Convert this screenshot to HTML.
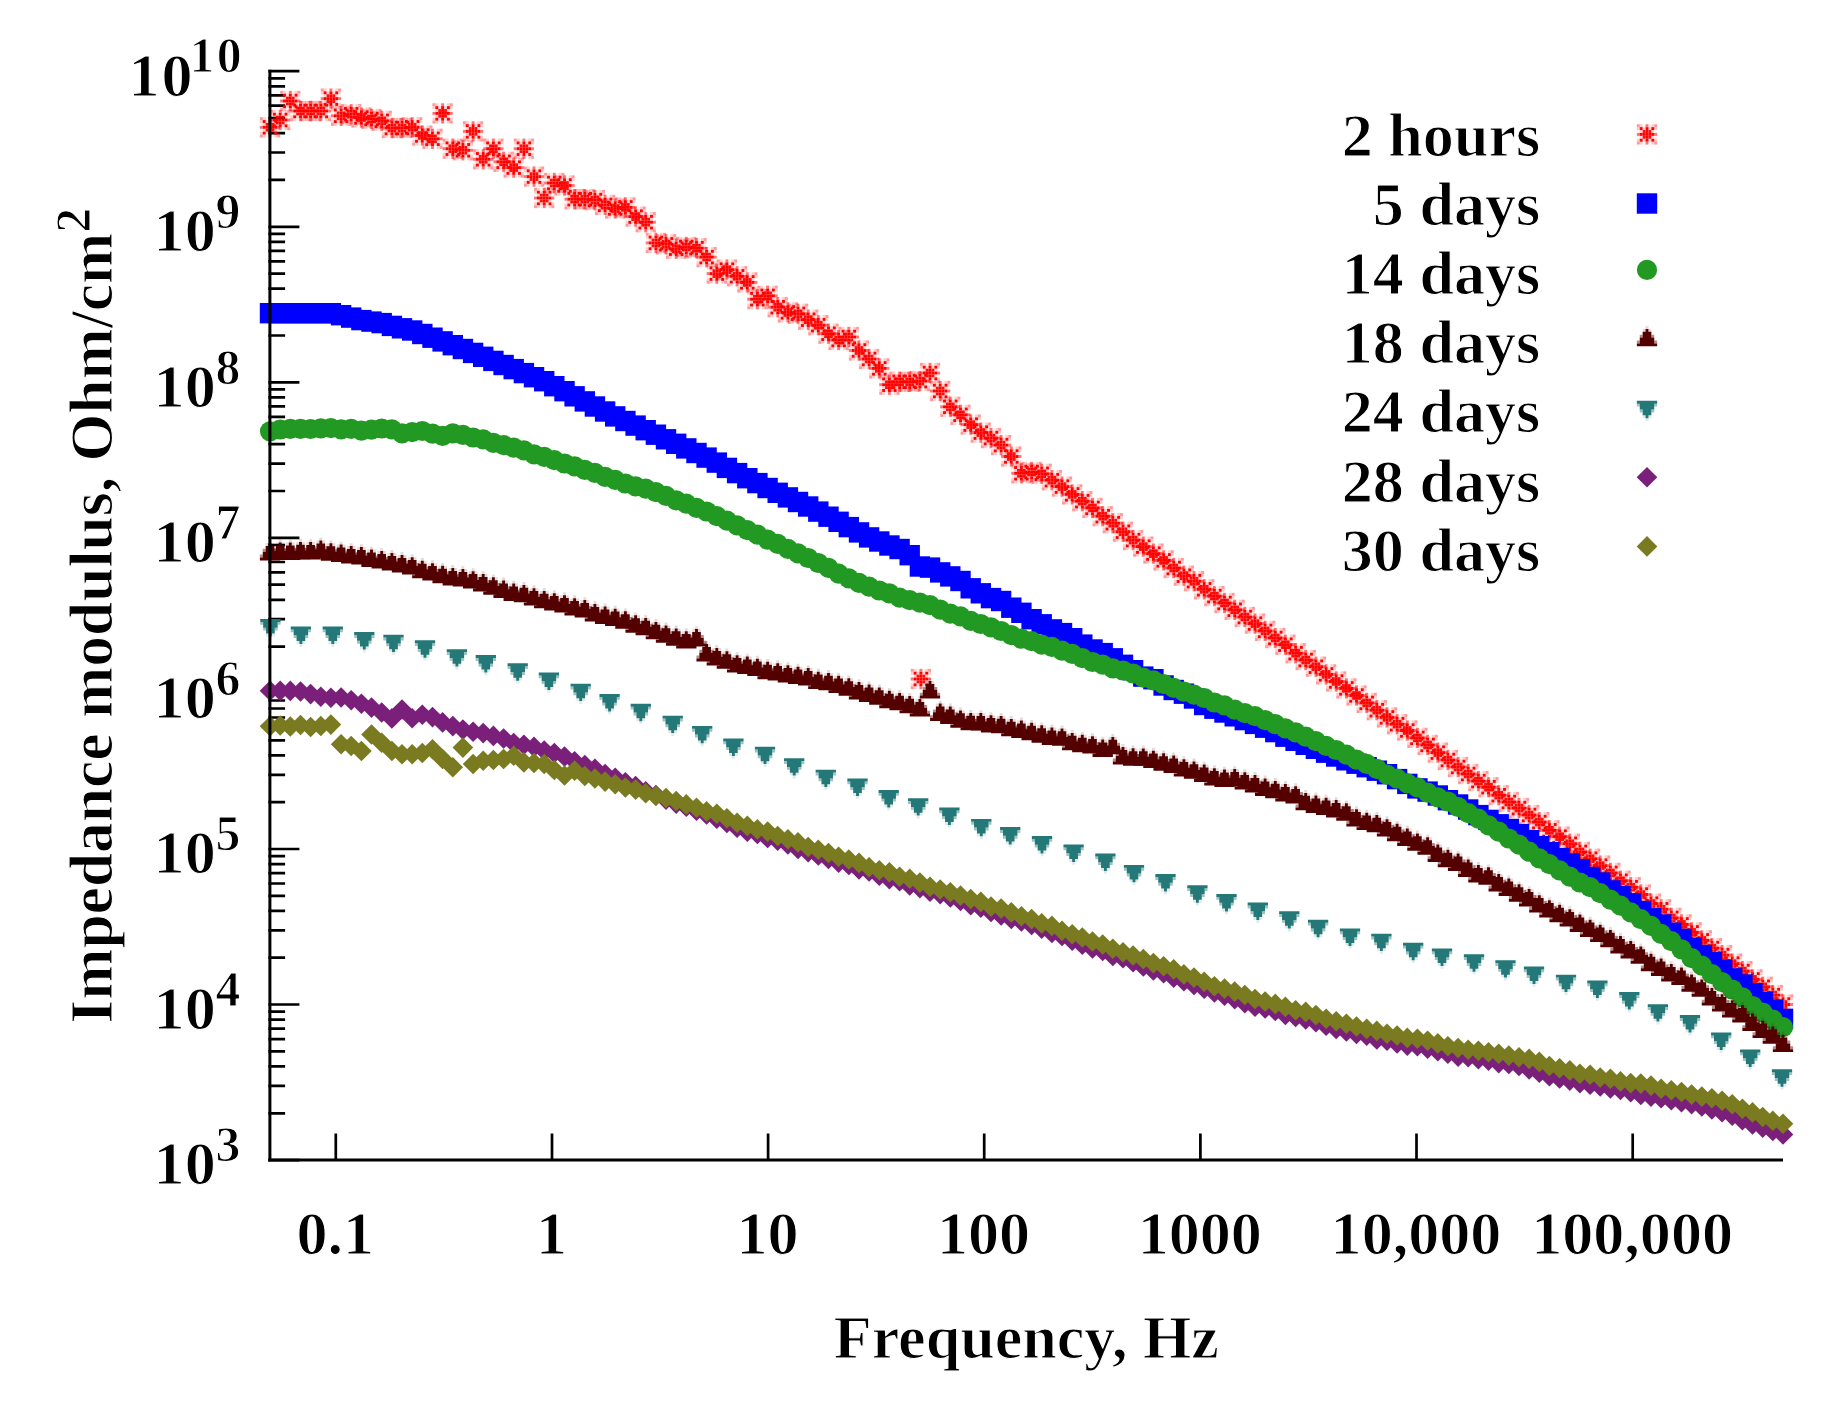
<!DOCTYPE html>
<html lang="en"><head><meta charset="utf-8"><title>Impedance modulus vs Frequency</title>
<style>
html,body{margin:0;padding:0;background:#fff;}
body{width:1827px;height:1412px;overflow:hidden;}
svg{display:block;}
text{font-family:"Liberation Serif", "DejaVu Serif", serif;font-weight:bold;fill:#000;stroke:#fff;stroke-width:1.1px;stroke-linejoin:round;}
</style></head><body>
<svg width="1827" height="1412" viewBox="0 0 1827 1412">
<rect width="1827" height="1412" fill="#fff"/>
<defs>
<g id="m-star" fill="#ff0000"><rect x="-10.15" y="-10.15" width="2.90" height="2.90" opacity="0.4"/><rect x="-10.15" y="-7.25" width="2.90" height="2.90" opacity="0.2"/><rect x="-10.15" y="-4.35" width="2.90" height="2.90" opacity="0.04"/><rect x="-10.15" y="-1.45" width="2.90" height="2.90" opacity="0.55"/><rect x="-10.15" y="1.45" width="2.90" height="2.90" opacity="0.04"/><rect x="-10.15" y="4.35" width="2.90" height="2.90" opacity="0.2"/><rect x="-10.15" y="7.25" width="2.90" height="2.90" opacity="0.4"/><rect x="-7.25" y="-10.15" width="2.90" height="2.90" opacity="0.2"/><rect x="-7.25" y="-7.25" width="2.90" height="2.90"/><rect x="-7.25" y="-4.35" width="2.90" height="2.90" opacity="0.18"/><rect x="-7.25" y="-1.45" width="2.90" height="2.90"/><rect x="-7.25" y="1.45" width="2.90" height="2.90" opacity="0.18"/><rect x="-7.25" y="4.35" width="2.90" height="2.90"/><rect x="-7.25" y="7.25" width="2.90" height="2.90" opacity="0.2"/><rect x="-4.35" y="-10.15" width="2.90" height="2.90" opacity="0.04"/><rect x="-4.35" y="-7.25" width="2.90" height="2.90" opacity="0.18"/><rect x="-4.35" y="-4.35" width="2.90" height="2.90" opacity="0.95"/><rect x="-4.35" y="-1.45" width="2.90" height="2.90"/><rect x="-4.35" y="1.45" width="2.90" height="2.90" opacity="0.95"/><rect x="-4.35" y="4.35" width="2.90" height="2.90" opacity="0.18"/><rect x="-4.35" y="7.25" width="2.90" height="2.90" opacity="0.04"/><rect x="-1.45" y="-10.15" width="2.90" height="2.90" opacity="0.55"/><rect x="-1.45" y="-7.25" width="2.90" height="2.90"/><rect x="-1.45" y="-4.35" width="2.90" height="2.90"/><rect x="-1.45" y="-1.45" width="2.90" height="2.90"/><rect x="-1.45" y="1.45" width="2.90" height="2.90"/><rect x="-1.45" y="4.35" width="2.90" height="2.90"/><rect x="-1.45" y="7.25" width="2.90" height="2.90" opacity="0.55"/><rect x="1.45" y="-10.15" width="2.90" height="2.90" opacity="0.04"/><rect x="1.45" y="-7.25" width="2.90" height="2.90" opacity="0.18"/><rect x="1.45" y="-4.35" width="2.90" height="2.90" opacity="0.95"/><rect x="1.45" y="-1.45" width="2.90" height="2.90"/><rect x="1.45" y="1.45" width="2.90" height="2.90" opacity="0.95"/><rect x="1.45" y="4.35" width="2.90" height="2.90" opacity="0.18"/><rect x="1.45" y="7.25" width="2.90" height="2.90" opacity="0.04"/><rect x="4.35" y="-10.15" width="2.90" height="2.90" opacity="0.2"/><rect x="4.35" y="-7.25" width="2.90" height="2.90"/><rect x="4.35" y="-4.35" width="2.90" height="2.90" opacity="0.18"/><rect x="4.35" y="-1.45" width="2.90" height="2.90"/><rect x="4.35" y="1.45" width="2.90" height="2.90" opacity="0.18"/><rect x="4.35" y="4.35" width="2.90" height="2.90"/><rect x="4.35" y="7.25" width="2.90" height="2.90" opacity="0.2"/><rect x="7.25" y="-10.15" width="2.90" height="2.90" opacity="0.4"/><rect x="7.25" y="-7.25" width="2.90" height="2.90" opacity="0.2"/><rect x="7.25" y="-4.35" width="2.90" height="2.90" opacity="0.04"/><rect x="7.25" y="-1.45" width="2.90" height="2.90" opacity="0.55"/><rect x="7.25" y="1.45" width="2.90" height="2.90" opacity="0.04"/><rect x="7.25" y="4.35" width="2.90" height="2.90" opacity="0.2"/><rect x="7.25" y="7.25" width="2.90" height="2.90" opacity="0.4"/></g>
<rect id="m-sq" x="-10.2" y="-10.2" width="20.4" height="20.4" fill="#0000ff"/>
<circle id="m-ci" r="10.1" fill="#229922"/>
<g id="m-up" fill="#550000"><path d="M-10.15 9.8V6.9H-7.25V1.1H-4.35V-4.7H-1.45V-7.6H1.45V-4.7H4.35V1.1H7.25V6.9H10.15V9.8Z"/><path opacity="0.45" d="M-10.15 6.9V4H-7.25V6.9ZM10.15 6.9V4H7.25V6.9ZM-7.25 1.1V-1.8H-4.35V1.1ZM7.25 1.1V-1.8H4.35V1.1Z"/><path opacity="0.15" d="M-4.35 -4.7V-7.6H-1.45V-4.7ZM4.35 -4.7V-7.6H1.45V-4.7ZM-1.45 -7.6V-10.5H1.45V-7.6Z"/></g>
<g id="m-dn" fill="#257878"><path d="M-10.15 -9.5V-6.6H-7.25V-0.8H-4.35V5H-1.45V7.9H1.45V5H4.35V-0.8H7.25V-6.6H10.15V-9.5Z"/><path opacity="0.45" d="M-10.15 -6.6V-3.7H-7.25V-6.6ZM10.15 -6.6V-3.7H7.25V-6.6ZM-7.25 -0.8V2.1H-4.35V-0.8ZM7.25 -0.8V2.1H4.35V-0.8Z"/><path opacity="0.15" d="M-4.35 5V7.9H-1.45V5ZM4.35 5V7.9H1.45V5ZM-1.45 7.9V10.8H1.45V7.9Z"/></g>
<path id="m-dp" d="M0 -10.3L10.3 0L0 10.3L-10.3 0Z" fill="#7a207a"/>
<path id="m-do" d="M0 -10.3L10.3 0L0 10.3L-10.3 0Z" fill="#7a7a20"/>
</defs>
<path d="M268.4 1160.1H299.4M268.4 1113.3H285.1M268.4 1085.9H285.1M268.4 1066.4H285.1M268.4 1051.4H285.1M268.4 1039.1H285.1M268.4 1028.6H285.1M268.4 1019.6H285.1M268.4 1011.7H285.1M268.4 1004.5H299.4M268.4 957.7H285.1M268.4 930.3H285.1M268.4 910.9H285.1M268.4 895.8H285.1M268.4 883.5H285.1M268.4 873.1H285.1M268.4 864.1H285.1M268.4 856.1H285.1M268.4 849.0H299.4M268.4 802.2H285.1M268.4 774.8H285.1M268.4 755.3H285.1M268.4 740.3H285.1M268.4 727.9H285.1M268.4 717.5H285.1M268.4 708.5H285.1M268.4 700.5H285.1M268.4 693.4H299.4M268.4 646.6H285.1M268.4 619.2H285.1M268.4 599.8H285.1M268.4 584.7H285.1M268.4 572.4H285.1M268.4 562.0H285.1M268.4 552.9H285.1M268.4 545.0H285.1M268.4 537.9H299.4M268.4 491.0H285.1M268.4 463.7H285.1M268.4 444.2H285.1M268.4 429.1H285.1M268.4 416.8H285.1M268.4 406.4H285.1M268.4 397.4H285.1M268.4 389.4H285.1M268.4 382.3H299.4M268.4 335.5H285.1M268.4 308.1H285.1M268.4 288.7H285.1M268.4 273.6H285.1M268.4 261.3H285.1M268.4 250.9H285.1M268.4 241.8H285.1M268.4 233.9H285.1M268.4 226.8H299.4M268.4 179.9H285.1M268.4 152.5H285.1M268.4 133.1H285.1M268.4 118.0H285.1M268.4 105.7H285.1M268.4 95.3H285.1M268.4 86.3H285.1M268.4 78.3H285.1M268.4 71.2H299.4M335.8 1160.1V1133.5M552.0 1160.1V1133.5M768.1 1160.1V1133.5M984.2 1160.1V1133.5M1200.4 1160.1V1133.5M1416.5 1160.1V1133.5M1632.7 1160.1V1133.5" stroke="#000" stroke-width="2.7" fill="none"/>
<g><use href="#m-star" x="270.0" y="127.3"/><use href="#m-star" x="280.2" y="120.0"/><use href="#m-star" x="290.3" y="101.0"/><use href="#m-star" x="300.5" y="111.0"/><use href="#m-star" x="310.6" y="111.0"/><use href="#m-star" x="320.8" y="111.0"/><use href="#m-star" x="330.9" y="98.6"/><use href="#m-star" x="341.1" y="115.8"/><use href="#m-star" x="351.2" y="114.2"/><use href="#m-star" x="361.4" y="117.5"/><use href="#m-star" x="371.5" y="119.0"/><use href="#m-star" x="381.7" y="120.8"/><use href="#m-star" x="391.9" y="128.0"/><use href="#m-star" x="402.0" y="128.0"/><use href="#m-star" x="412.2" y="127.3"/><use href="#m-star" x="422.3" y="135.5"/><use href="#m-star" x="432.5" y="138.8"/><use href="#m-star" x="442.6" y="113.4"/><use href="#m-star" x="452.8" y="148.7"/><use href="#m-star" x="462.9" y="150.3"/><use href="#m-star" x="473.1" y="131.4"/><use href="#m-star" x="483.2" y="159.3"/><use href="#m-star" x="493.4" y="148.7"/><use href="#m-star" x="503.6" y="161.8"/><use href="#m-star" x="513.7" y="167.6"/><use href="#m-star" x="523.9" y="148.7"/><use href="#m-star" x="534.0" y="176.6"/><use href="#m-star" x="544.2" y="198.0"/><use href="#m-star" x="554.3" y="183.0"/><use href="#m-star" x="564.5" y="185.5"/><use href="#m-star" x="574.6" y="199.2"/><use href="#m-star" x="584.8" y="199.2"/><use href="#m-star" x="594.9" y="200.1"/><use href="#m-star" x="605.1" y="204.9"/><use href="#m-star" x="615.2" y="208.5"/><use href="#m-star" x="625.4" y="207.4"/><use href="#m-star" x="635.6" y="216.6"/><use href="#m-star" x="645.7" y="222.2"/><use href="#m-star" x="655.9" y="242.9"/><use href="#m-star" x="666.0" y="244.3"/><use href="#m-star" x="676.2" y="248.7"/><use href="#m-star" x="686.3" y="247.0"/><use href="#m-star" x="696.5" y="248.2"/><use href="#m-star" x="706.6" y="257.1"/><use href="#m-star" x="716.8" y="273.6"/><use href="#m-star" x="726.9" y="269.6"/><use href="#m-star" x="737.1" y="276.3"/><use href="#m-star" x="747.3" y="282.4"/><use href="#m-star" x="757.4" y="299.2"/><use href="#m-star" x="767.6" y="295.8"/><use href="#m-star" x="777.7" y="307.2"/><use href="#m-star" x="787.9" y="312.4"/><use href="#m-star" x="798.0" y="313.8"/><use href="#m-star" x="808.2" y="319.7"/><use href="#m-star" x="818.3" y="325.2"/><use href="#m-star" x="828.5" y="333.7"/><use href="#m-star" x="838.6" y="340.0"/><use href="#m-star" x="848.8" y="337.0"/><use href="#m-star" x="859.0" y="350.5"/><use href="#m-star" x="869.1" y="359.0"/><use href="#m-star" x="879.3" y="368.4"/><use href="#m-star" x="889.4" y="384.7"/><use href="#m-star" x="899.6" y="381.8"/><use href="#m-star" x="909.7" y="381.8"/><use href="#m-star" x="919.9" y="381.1"/><use href="#m-star" x="930.0" y="373.0"/><use href="#m-star" x="940.2" y="391.0"/><use href="#m-star" x="950.3" y="406.8"/><use href="#m-star" x="960.5" y="414.8"/><use href="#m-star" x="970.7" y="424.6"/><use href="#m-star" x="980.8" y="432.6"/><use href="#m-star" x="991.0" y="438.1"/><use href="#m-star" x="1001.1" y="445.1"/><use href="#m-star" x="1011.3" y="456.5"/><use href="#m-star" x="1021.4" y="473.3"/><use href="#m-star" x="1031.6" y="472.0"/><use href="#m-star" x="1041.7" y="473.8"/><use href="#m-star" x="1051.9" y="480.2"/><use href="#m-star" x="1062.0" y="486.6"/><use href="#m-star" x="1072.2" y="494.4"/><use href="#m-star" x="1082.3" y="501.2"/><use href="#m-star" x="1092.5" y="507.9"/><use href="#m-star" x="1102.7" y="516.2"/><use href="#m-star" x="1112.8" y="523.2"/><use href="#m-star" x="1123.0" y="531.7"/><use href="#m-star" x="1133.1" y="540.1"/><use href="#m-star" x="1143.3" y="546.6"/><use href="#m-star" x="1153.4" y="553.6"/><use href="#m-star" x="1163.6" y="560.4"/><use href="#m-star" x="1173.7" y="568.0"/><use href="#m-star" x="1183.9" y="575.7"/><use href="#m-star" x="1194.0" y="581.2"/><use href="#m-star" x="1204.2" y="589.3"/><use href="#m-star" x="1214.4" y="596.1"/><use href="#m-star" x="1224.5" y="603.0"/><use href="#m-star" x="1234.7" y="609.8"/><use href="#m-star" x="1244.8" y="617.0"/><use href="#m-star" x="1255.0" y="623.6"/><use href="#m-star" x="1265.1" y="630.9"/><use href="#m-star" x="1275.3" y="638.0"/><use href="#m-star" x="1285.4" y="644.7"/><use href="#m-star" x="1295.6" y="653.2"/><use href="#m-star" x="1305.7" y="660.0"/><use href="#m-star" x="1315.9" y="666.7"/><use href="#m-star" x="1326.1" y="674.4"/><use href="#m-star" x="1336.2" y="681.5"/><use href="#m-star" x="1346.4" y="688.4"/><use href="#m-star" x="1356.5" y="695.5"/><use href="#m-star" x="1366.7" y="702.9"/><use href="#m-star" x="1376.8" y="710.2"/><use href="#m-star" x="1387.0" y="717.4"/><use href="#m-star" x="1397.1" y="724.2"/><use href="#m-star" x="1407.3" y="730.5"/><use href="#m-star" x="1417.4" y="737.9"/><use href="#m-star" x="1427.6" y="744.9"/><use href="#m-star" x="1437.8" y="752.6"/><use href="#m-star" x="1447.9" y="760.0"/><use href="#m-star" x="1458.1" y="767.0"/><use href="#m-star" x="1468.2" y="774.0"/><use href="#m-star" x="1478.4" y="781.1"/><use href="#m-star" x="1488.5" y="787.2"/><use href="#m-star" x="1498.7" y="795.2"/><use href="#m-star" x="1508.8" y="802.0"/><use href="#m-star" x="1519.0" y="808.1"/><use href="#m-star" x="1529.1" y="815.0"/><use href="#m-star" x="1539.3" y="822.1"/><use href="#m-star" x="1549.4" y="830.3"/><use href="#m-star" x="1559.6" y="836.6"/><use href="#m-star" x="1569.8" y="843.7"/><use href="#m-star" x="1579.9" y="851.9"/><use href="#m-star" x="1590.1" y="858.7"/><use href="#m-star" x="1600.2" y="865.6"/><use href="#m-star" x="1610.4" y="872.9"/><use href="#m-star" x="1620.5" y="880.7"/><use href="#m-star" x="1630.7" y="887.2"/><use href="#m-star" x="1640.8" y="894.5"/><use href="#m-star" x="1651.0" y="903.6"/><use href="#m-star" x="1661.1" y="909.3"/><use href="#m-star" x="1671.3" y="917.9"/><use href="#m-star" x="1681.5" y="924.4"/><use href="#m-star" x="1691.6" y="932.4"/><use href="#m-star" x="1701.8" y="940.4"/><use href="#m-star" x="1711.9" y="948.1"/><use href="#m-star" x="1722.1" y="955.1"/><use href="#m-star" x="1732.2" y="963.6"/><use href="#m-star" x="1742.4" y="971.1"/><use href="#m-star" x="1752.5" y="979.4"/><use href="#m-star" x="1762.7" y="986.8"/><use href="#m-star" x="1772.8" y="995.1"/><use href="#m-star" x="1783.0" y="1004.5"/><use href="#m-star" x="920.9" y="679.0"/></g>
<g><use href="#m-sq" x="270.0" y="313.2"/><use href="#m-sq" x="280.2" y="313.2"/><use href="#m-sq" x="290.3" y="313.2"/><use href="#m-sq" x="300.5" y="313.2"/><use href="#m-sq" x="310.6" y="313.2"/><use href="#m-sq" x="320.8" y="313.2"/><use href="#m-sq" x="330.9" y="313.2"/><use href="#m-sq" x="341.1" y="315.2"/><use href="#m-sq" x="351.2" y="317.6"/><use href="#m-sq" x="361.4" y="320.1"/><use href="#m-sq" x="371.5" y="321.6"/><use href="#m-sq" x="381.7" y="323.1"/><use href="#m-sq" x="391.9" y="325.9"/><use href="#m-sq" x="402.0" y="328.3"/><use href="#m-sq" x="412.2" y="330.5"/><use href="#m-sq" x="422.3" y="334.0"/><use href="#m-sq" x="432.5" y="337.7"/><use href="#m-sq" x="442.6" y="341.4"/><use href="#m-sq" x="452.8" y="345.2"/><use href="#m-sq" x="462.9" y="349.0"/><use href="#m-sq" x="473.1" y="352.9"/><use href="#m-sq" x="483.2" y="356.8"/><use href="#m-sq" x="493.4" y="360.9"/><use href="#m-sq" x="503.6" y="365.0"/><use href="#m-sq" x="513.7" y="369.1"/><use href="#m-sq" x="523.9" y="373.1"/><use href="#m-sq" x="534.0" y="377.2"/><use href="#m-sq" x="544.2" y="381.2"/><use href="#m-sq" x="554.3" y="386.2"/><use href="#m-sq" x="564.5" y="391.2"/><use href="#m-sq" x="574.6" y="396.3"/><use href="#m-sq" x="584.8" y="401.4"/><use href="#m-sq" x="594.9" y="406.5"/><use href="#m-sq" x="605.1" y="411.5"/><use href="#m-sq" x="615.2" y="416.4"/><use href="#m-sq" x="625.4" y="421.0"/><use href="#m-sq" x="635.6" y="425.6"/><use href="#m-sq" x="645.7" y="430.2"/><use href="#m-sq" x="655.9" y="434.7"/><use href="#m-sq" x="666.0" y="439.3"/><use href="#m-sq" x="676.2" y="443.8"/><use href="#m-sq" x="686.3" y="448.4"/><use href="#m-sq" x="696.5" y="453.0"/><use href="#m-sq" x="706.6" y="457.6"/><use href="#m-sq" x="716.8" y="462.6"/><use href="#m-sq" x="726.9" y="467.9"/><use href="#m-sq" x="737.1" y="473.1"/><use href="#m-sq" x="747.3" y="478.2"/><use href="#m-sq" x="757.4" y="483.1"/><use href="#m-sq" x="767.6" y="488.0"/><use href="#m-sq" x="777.7" y="492.8"/><use href="#m-sq" x="787.9" y="497.4"/><use href="#m-sq" x="798.0" y="502.0"/><use href="#m-sq" x="808.2" y="506.5"/><use href="#m-sq" x="818.3" y="511.6"/><use href="#m-sq" x="828.5" y="516.7"/><use href="#m-sq" x="838.6" y="521.8"/><use href="#m-sq" x="848.8" y="527.1"/><use href="#m-sq" x="859.0" y="532.4"/><use href="#m-sq" x="869.1" y="537.4"/><use href="#m-sq" x="879.3" y="541.5"/><use href="#m-sq" x="889.4" y="545.5"/><use href="#m-sq" x="899.6" y="549.0"/><use href="#m-sq" x="909.7" y="555.2"/><use href="#m-sq" x="919.9" y="566.5"/><use href="#m-sq" x="930.0" y="567.6"/><use href="#m-sq" x="940.2" y="572.4"/><use href="#m-sq" x="950.3" y="576.4"/><use href="#m-sq" x="960.5" y="581.0"/><use href="#m-sq" x="970.7" y="588.3"/><use href="#m-sq" x="980.8" y="593.3"/><use href="#m-sq" x="991.0" y="598.1"/><use href="#m-sq" x="1001.1" y="601.0"/><use href="#m-sq" x="1011.3" y="607.7"/><use href="#m-sq" x="1021.4" y="612.8"/><use href="#m-sq" x="1031.6" y="619.2"/><use href="#m-sq" x="1041.7" y="624.3"/><use href="#m-sq" x="1051.9" y="629.4"/><use href="#m-sq" x="1062.0" y="633.1"/><use href="#m-sq" x="1072.2" y="638.2"/><use href="#m-sq" x="1082.3" y="644.6"/><use href="#m-sq" x="1092.5" y="649.5"/><use href="#m-sq" x="1102.7" y="653.1"/><use href="#m-sq" x="1112.8" y="658.3"/><use href="#m-sq" x="1123.0" y="664.8"/><use href="#m-sq" x="1133.1" y="670.2"/><use href="#m-sq" x="1143.3" y="676.6"/><use href="#m-sq" x="1153.4" y="679.2"/><use href="#m-sq" x="1163.6" y="685.5"/><use href="#m-sq" x="1173.7" y="690.0"/><use href="#m-sq" x="1183.9" y="693.7"/><use href="#m-sq" x="1194.0" y="698.5"/><use href="#m-sq" x="1204.2" y="705.0"/><use href="#m-sq" x="1214.4" y="708.7"/><use href="#m-sq" x="1224.5" y="712.5"/><use href="#m-sq" x="1234.7" y="716.3"/><use href="#m-sq" x="1244.8" y="720.1"/><use href="#m-sq" x="1255.0" y="723.9"/><use href="#m-sq" x="1265.1" y="727.7"/><use href="#m-sq" x="1275.3" y="732.1"/><use href="#m-sq" x="1285.4" y="736.7"/><use href="#m-sq" x="1295.6" y="740.8"/><use href="#m-sq" x="1305.7" y="744.8"/><use href="#m-sq" x="1315.9" y="748.8"/><use href="#m-sq" x="1326.1" y="752.7"/><use href="#m-sq" x="1336.2" y="756.5"/><use href="#m-sq" x="1346.4" y="760.3"/><use href="#m-sq" x="1356.5" y="763.7"/><use href="#m-sq" x="1366.7" y="767.2"/><use href="#m-sq" x="1376.8" y="770.7"/><use href="#m-sq" x="1387.0" y="774.2"/><use href="#m-sq" x="1397.1" y="779.1"/><use href="#m-sq" x="1407.3" y="783.9"/><use href="#m-sq" x="1417.4" y="788.4"/><use href="#m-sq" x="1427.6" y="791.6"/><use href="#m-sq" x="1437.8" y="795.5"/><use href="#m-sq" x="1447.9" y="800.2"/><use href="#m-sq" x="1458.1" y="804.5"/><use href="#m-sq" x="1468.2" y="809.5"/><use href="#m-sq" x="1478.4" y="815.1"/><use href="#m-sq" x="1488.5" y="819.9"/><use href="#m-sq" x="1498.7" y="824.3"/><use href="#m-sq" x="1508.8" y="829.0"/><use href="#m-sq" x="1519.0" y="834.1"/><use href="#m-sq" x="1529.1" y="840.2"/><use href="#m-sq" x="1539.3" y="846.2"/><use href="#m-sq" x="1549.4" y="852.2"/><use href="#m-sq" x="1559.6" y="858.0"/><use href="#m-sq" x="1569.8" y="863.4"/><use href="#m-sq" x="1579.9" y="869.2"/><use href="#m-sq" x="1590.1" y="877.0"/><use href="#m-sq" x="1600.2" y="882.5"/><use href="#m-sq" x="1610.4" y="890.4"/><use href="#m-sq" x="1620.5" y="896.2"/><use href="#m-sq" x="1630.7" y="903.4"/><use href="#m-sq" x="1640.8" y="911.0"/><use href="#m-sq" x="1651.0" y="918.3"/><use href="#m-sq" x="1661.1" y="924.5"/><use href="#m-sq" x="1671.3" y="932.7"/><use href="#m-sq" x="1681.5" y="938.9"/><use href="#m-sq" x="1691.6" y="947.7"/><use href="#m-sq" x="1701.8" y="955.0"/><use href="#m-sq" x="1711.9" y="962.2"/><use href="#m-sq" x="1722.1" y="969.6"/><use href="#m-sq" x="1732.2" y="978.4"/><use href="#m-sq" x="1742.4" y="984.5"/><use href="#m-sq" x="1752.5" y="993.3"/><use href="#m-sq" x="1762.7" y="1001.8"/><use href="#m-sq" x="1772.8" y="1009.6"/><use href="#m-sq" x="1783.0" y="1018.9"/></g>
<g><use href="#m-ci" x="270.0" y="431.3"/><use href="#m-ci" x="280.2" y="429.5"/><use href="#m-ci" x="290.3" y="428.8"/><use href="#m-ci" x="300.5" y="428.9"/><use href="#m-ci" x="310.6" y="429.0"/><use href="#m-ci" x="320.8" y="428.3"/><use href="#m-ci" x="330.9" y="428.2"/><use href="#m-ci" x="341.1" y="429.3"/><use href="#m-ci" x="351.2" y="428.9"/><use href="#m-ci" x="361.4" y="430.6"/><use href="#m-ci" x="371.5" y="429.6"/><use href="#m-ci" x="381.7" y="428.5"/><use href="#m-ci" x="391.9" y="429.3"/><use href="#m-ci" x="402.0" y="433.3"/><use href="#m-ci" x="412.2" y="432.1"/><use href="#m-ci" x="422.3" y="431.0"/><use href="#m-ci" x="432.5" y="433.6"/><use href="#m-ci" x="442.6" y="435.9"/><use href="#m-ci" x="452.8" y="433.3"/><use href="#m-ci" x="462.9" y="434.8"/><use href="#m-ci" x="473.1" y="437.5"/><use href="#m-ci" x="483.2" y="439.3"/><use href="#m-ci" x="493.4" y="442.8"/><use href="#m-ci" x="503.6" y="445.2"/><use href="#m-ci" x="513.7" y="447.6"/><use href="#m-ci" x="523.9" y="450.3"/><use href="#m-ci" x="534.0" y="454.3"/><use href="#m-ci" x="544.2" y="456.8"/><use href="#m-ci" x="554.3" y="460.2"/><use href="#m-ci" x="564.5" y="463.5"/><use href="#m-ci" x="574.6" y="466.3"/><use href="#m-ci" x="584.8" y="469.9"/><use href="#m-ci" x="594.9" y="472.9"/><use href="#m-ci" x="605.1" y="476.9"/><use href="#m-ci" x="615.2" y="479.8"/><use href="#m-ci" x="625.4" y="483.5"/><use href="#m-ci" x="635.6" y="486.4"/><use href="#m-ci" x="645.7" y="488.6"/><use href="#m-ci" x="655.9" y="492.2"/><use href="#m-ci" x="666.0" y="495.8"/><use href="#m-ci" x="676.2" y="500.3"/><use href="#m-ci" x="686.3" y="503.6"/><use href="#m-ci" x="696.5" y="507.9"/><use href="#m-ci" x="706.6" y="511.5"/><use href="#m-ci" x="716.8" y="516.2"/><use href="#m-ci" x="726.9" y="520.7"/><use href="#m-ci" x="737.1" y="525.3"/><use href="#m-ci" x="747.3" y="530.2"/><use href="#m-ci" x="757.4" y="534.7"/><use href="#m-ci" x="767.6" y="539.6"/><use href="#m-ci" x="777.7" y="543.9"/><use href="#m-ci" x="787.9" y="548.8"/><use href="#m-ci" x="798.0" y="553.3"/><use href="#m-ci" x="808.2" y="558.0"/><use href="#m-ci" x="818.3" y="563.0"/><use href="#m-ci" x="828.5" y="567.8"/><use href="#m-ci" x="838.6" y="573.6"/><use href="#m-ci" x="848.8" y="578.3"/><use href="#m-ci" x="859.0" y="582.8"/><use href="#m-ci" x="869.1" y="586.7"/><use href="#m-ci" x="879.3" y="590.5"/><use href="#m-ci" x="889.4" y="593.4"/><use href="#m-ci" x="899.6" y="597.7"/><use href="#m-ci" x="909.7" y="600.2"/><use href="#m-ci" x="919.9" y="602.6"/><use href="#m-ci" x="930.0" y="605.1"/><use href="#m-ci" x="940.2" y="609.7"/><use href="#m-ci" x="950.3" y="613.7"/><use href="#m-ci" x="960.5" y="616.4"/><use href="#m-ci" x="970.7" y="620.9"/><use href="#m-ci" x="980.8" y="624.0"/><use href="#m-ci" x="991.0" y="627.3"/><use href="#m-ci" x="1001.1" y="631.0"/><use href="#m-ci" x="1011.3" y="635.1"/><use href="#m-ci" x="1021.4" y="638.7"/><use href="#m-ci" x="1031.6" y="641.1"/><use href="#m-ci" x="1041.7" y="644.7"/><use href="#m-ci" x="1051.9" y="646.9"/><use href="#m-ci" x="1062.0" y="650.6"/><use href="#m-ci" x="1072.2" y="653.8"/><use href="#m-ci" x="1082.3" y="658.2"/><use href="#m-ci" x="1092.5" y="662.0"/><use href="#m-ci" x="1102.7" y="664.7"/><use href="#m-ci" x="1112.8" y="668.3"/><use href="#m-ci" x="1123.0" y="670.5"/><use href="#m-ci" x="1133.1" y="673.5"/><use href="#m-ci" x="1143.3" y="677.6"/><use href="#m-ci" x="1153.4" y="680.4"/><use href="#m-ci" x="1163.6" y="684.0"/><use href="#m-ci" x="1173.7" y="687.8"/><use href="#m-ci" x="1183.9" y="691.6"/><use href="#m-ci" x="1194.0" y="694.6"/><use href="#m-ci" x="1204.2" y="698.0"/><use href="#m-ci" x="1214.4" y="702.5"/><use href="#m-ci" x="1224.5" y="705.4"/><use href="#m-ci" x="1234.7" y="709.7"/><use href="#m-ci" x="1244.8" y="713.2"/><use href="#m-ci" x="1255.0" y="716.2"/><use href="#m-ci" x="1265.1" y="720.1"/><use href="#m-ci" x="1275.3" y="724.2"/><use href="#m-ci" x="1285.4" y="728.3"/><use href="#m-ci" x="1295.6" y="732.4"/><use href="#m-ci" x="1305.7" y="736.7"/><use href="#m-ci" x="1315.9" y="741.1"/><use href="#m-ci" x="1326.1" y="745.8"/><use href="#m-ci" x="1336.2" y="750.0"/><use href="#m-ci" x="1346.4" y="754.6"/><use href="#m-ci" x="1356.5" y="759.7"/><use href="#m-ci" x="1366.7" y="763.9"/><use href="#m-ci" x="1376.8" y="768.9"/><use href="#m-ci" x="1387.0" y="774.6"/><use href="#m-ci" x="1397.1" y="778.7"/><use href="#m-ci" x="1407.3" y="783.4"/><use href="#m-ci" x="1417.4" y="787.4"/><use href="#m-ci" x="1427.6" y="792.6"/><use href="#m-ci" x="1437.8" y="797.4"/><use href="#m-ci" x="1447.9" y="801.5"/><use href="#m-ci" x="1458.1" y="807.0"/><use href="#m-ci" x="1468.2" y="813.2"/><use href="#m-ci" x="1478.4" y="818.6"/><use href="#m-ci" x="1488.5" y="825.3"/><use href="#m-ci" x="1498.7" y="831.7"/><use href="#m-ci" x="1508.8" y="838.5"/><use href="#m-ci" x="1519.0" y="844.7"/><use href="#m-ci" x="1529.1" y="851.7"/><use href="#m-ci" x="1539.3" y="858.3"/><use href="#m-ci" x="1549.4" y="864.1"/><use href="#m-ci" x="1559.6" y="870.3"/><use href="#m-ci" x="1569.8" y="876.6"/><use href="#m-ci" x="1579.9" y="882.5"/><use href="#m-ci" x="1590.1" y="887.2"/><use href="#m-ci" x="1600.2" y="893.1"/><use href="#m-ci" x="1610.4" y="899.6"/><use href="#m-ci" x="1620.5" y="905.7"/><use href="#m-ci" x="1630.7" y="912.3"/><use href="#m-ci" x="1640.8" y="919.1"/><use href="#m-ci" x="1651.0" y="925.9"/><use href="#m-ci" x="1661.1" y="933.9"/><use href="#m-ci" x="1671.3" y="941.1"/><use href="#m-ci" x="1681.5" y="949.3"/><use href="#m-ci" x="1691.6" y="958.2"/><use href="#m-ci" x="1701.8" y="965.7"/><use href="#m-ci" x="1711.9" y="974.2"/><use href="#m-ci" x="1722.1" y="982.1"/><use href="#m-ci" x="1732.2" y="989.5"/><use href="#m-ci" x="1742.4" y="997.3"/><use href="#m-ci" x="1752.5" y="1006.0"/><use href="#m-ci" x="1762.7" y="1012.6"/><use href="#m-ci" x="1772.8" y="1019.7"/><use href="#m-ci" x="1783.0" y="1027.2"/></g>
<g><use href="#m-up" x="270.0" y="550.6"/><use href="#m-up" x="280.2" y="550.0"/><use href="#m-up" x="290.3" y="550.2"/><use href="#m-up" x="300.5" y="549.5"/><use href="#m-up" x="310.6" y="549.7"/><use href="#m-up" x="320.8" y="548.1"/><use href="#m-up" x="330.9" y="550.9"/><use href="#m-up" x="341.1" y="552.2"/><use href="#m-up" x="351.2" y="553.7"/><use href="#m-up" x="361.4" y="554.7"/><use href="#m-up" x="371.5" y="557.2"/><use href="#m-up" x="381.7" y="558.7"/><use href="#m-up" x="391.9" y="560.6"/><use href="#m-up" x="402.0" y="562.6"/><use href="#m-up" x="412.2" y="564.8"/><use href="#m-up" x="422.3" y="568.4"/><use href="#m-up" x="432.5" y="570.8"/><use href="#m-up" x="442.6" y="573.4"/><use href="#m-up" x="452.8" y="575.6"/><use href="#m-up" x="462.9" y="576.6"/><use href="#m-up" x="473.1" y="578.8"/><use href="#m-up" x="483.2" y="581.7"/><use href="#m-up" x="493.4" y="584.9"/><use href="#m-up" x="503.6" y="588.1"/><use href="#m-up" x="513.7" y="591.2"/><use href="#m-up" x="523.9" y="592.5"/><use href="#m-up" x="534.0" y="595.8"/><use href="#m-up" x="544.2" y="598.5"/><use href="#m-up" x="554.3" y="600.8"/><use href="#m-up" x="564.5" y="602.8"/><use href="#m-up" x="574.6" y="605.8"/><use href="#m-up" x="584.8" y="607.7"/><use href="#m-up" x="594.9" y="611.6"/><use href="#m-up" x="605.1" y="614.1"/><use href="#m-up" x="615.2" y="616.3"/><use href="#m-up" x="625.4" y="618.9"/><use href="#m-up" x="635.6" y="622.9"/><use href="#m-up" x="645.7" y="625.5"/><use href="#m-up" x="655.9" y="629.5"/><use href="#m-up" x="666.0" y="633.0"/><use href="#m-up" x="676.2" y="636.0"/><use href="#m-up" x="686.3" y="638.8"/><use href="#m-up" x="696.5" y="636.7"/><use href="#m-up" x="706.6" y="651.6"/><use href="#m-up" x="716.8" y="655.6"/><use href="#m-up" x="726.9" y="658.9"/><use href="#m-up" x="737.1" y="662.8"/><use href="#m-up" x="747.3" y="664.2"/><use href="#m-up" x="757.4" y="666.3"/><use href="#m-up" x="767.6" y="669.4"/><use href="#m-up" x="777.7" y="670.8"/><use href="#m-up" x="787.9" y="672.8"/><use href="#m-up" x="798.0" y="674.3"/><use href="#m-up" x="808.2" y="675.7"/><use href="#m-up" x="818.3" y="679.3"/><use href="#m-up" x="828.5" y="680.5"/><use href="#m-up" x="838.6" y="683.3"/><use href="#m-up" x="848.8" y="685.9"/><use href="#m-up" x="859.0" y="689.7"/><use href="#m-up" x="869.1" y="692.1"/><use href="#m-up" x="879.3" y="695.0"/><use href="#m-up" x="889.4" y="698.4"/><use href="#m-up" x="899.6" y="700.5"/><use href="#m-up" x="909.7" y="703.5"/><use href="#m-up" x="919.9" y="706.7"/><use href="#m-up" x="930.0" y="688.7"/><use href="#m-up" x="940.2" y="711.2"/><use href="#m-up" x="950.3" y="714.1"/><use href="#m-up" x="960.5" y="718.0"/><use href="#m-up" x="970.7" y="720.5"/><use href="#m-up" x="980.8" y="720.7"/><use href="#m-up" x="991.0" y="722.8"/><use href="#m-up" x="1001.1" y="723.5"/><use href="#m-up" x="1011.3" y="726.5"/><use href="#m-up" x="1021.4" y="728.1"/><use href="#m-up" x="1031.6" y="730.4"/><use href="#m-up" x="1041.7" y="732.9"/><use href="#m-up" x="1051.9" y="735.1"/><use href="#m-up" x="1062.0" y="736.0"/><use href="#m-up" x="1072.2" y="740.5"/><use href="#m-up" x="1082.3" y="742.4"/><use href="#m-up" x="1092.5" y="743.8"/><use href="#m-up" x="1102.7" y="747.2"/><use href="#m-up" x="1112.8" y="744.5"/><use href="#m-up" x="1123.0" y="754.6"/><use href="#m-up" x="1133.1" y="755.9"/><use href="#m-up" x="1143.3" y="756.0"/><use href="#m-up" x="1153.4" y="758.3"/><use href="#m-up" x="1163.6" y="760.9"/><use href="#m-up" x="1173.7" y="763.1"/><use href="#m-up" x="1183.9" y="766.8"/><use href="#m-up" x="1194.0" y="769.0"/><use href="#m-up" x="1204.2" y="772.2"/><use href="#m-up" x="1214.4" y="775.8"/><use href="#m-up" x="1224.5" y="777.2"/><use href="#m-up" x="1234.7" y="776.7"/><use href="#m-up" x="1244.8" y="779.8"/><use href="#m-up" x="1255.0" y="782.6"/><use href="#m-up" x="1265.1" y="786.1"/><use href="#m-up" x="1275.3" y="788.5"/><use href="#m-up" x="1285.4" y="791.6"/><use href="#m-up" x="1295.6" y="793.8"/><use href="#m-up" x="1305.7" y="800.5"/><use href="#m-up" x="1315.9" y="803.1"/><use href="#m-up" x="1326.1" y="805.3"/><use href="#m-up" x="1336.2" y="807.7"/><use href="#m-up" x="1346.4" y="810.9"/><use href="#m-up" x="1356.5" y="816.8"/><use href="#m-up" x="1366.7" y="820.3"/><use href="#m-up" x="1376.8" y="822.5"/><use href="#m-up" x="1387.0" y="826.8"/><use href="#m-up" x="1397.1" y="831.4"/><use href="#m-up" x="1407.3" y="836.1"/><use href="#m-up" x="1417.4" y="841.0"/><use href="#m-up" x="1427.6" y="844.9"/><use href="#m-up" x="1437.8" y="852.2"/><use href="#m-up" x="1447.9" y="857.4"/><use href="#m-up" x="1458.1" y="861.2"/><use href="#m-up" x="1468.2" y="867.1"/><use href="#m-up" x="1478.4" y="872.6"/><use href="#m-up" x="1488.5" y="874.9"/><use href="#m-up" x="1498.7" y="881.6"/><use href="#m-up" x="1508.8" y="886.1"/><use href="#m-up" x="1519.0" y="891.9"/><use href="#m-up" x="1529.1" y="896.7"/><use href="#m-up" x="1539.3" y="902.8"/><use href="#m-up" x="1549.4" y="907.8"/><use href="#m-up" x="1559.6" y="912.4"/><use href="#m-up" x="1569.8" y="916.8"/><use href="#m-up" x="1579.9" y="922.2"/><use href="#m-up" x="1590.1" y="927.3"/><use href="#m-up" x="1600.2" y="932.3"/><use href="#m-up" x="1610.4" y="937.5"/><use href="#m-up" x="1620.5" y="943.6"/><use href="#m-up" x="1630.7" y="948.7"/><use href="#m-up" x="1640.8" y="954.0"/><use href="#m-up" x="1651.0" y="961.4"/><use href="#m-up" x="1661.1" y="966.2"/><use href="#m-up" x="1671.3" y="971.7"/><use href="#m-up" x="1681.5" y="975.2"/><use href="#m-up" x="1691.6" y="982.0"/><use href="#m-up" x="1701.8" y="987.0"/><use href="#m-up" x="1711.9" y="995.7"/><use href="#m-up" x="1722.1" y="1001.8"/><use href="#m-up" x="1732.2" y="1007.8"/><use href="#m-up" x="1742.4" y="1012.7"/><use href="#m-up" x="1752.5" y="1021.2"/><use href="#m-up" x="1762.7" y="1028.3"/><use href="#m-up" x="1772.8" y="1034.0"/><use href="#m-up" x="1783.0" y="1042.3"/></g>
<g><use href="#m-dn" x="270.4" y="628.5"/><use href="#m-dn" x="300.9" y="636.0"/><use href="#m-dn" x="332.8" y="636.0"/><use href="#m-dn" x="364.3" y="641.6"/><use href="#m-dn" x="393.5" y="644.2"/><use href="#m-dn" x="425.0" y="649.8"/><use href="#m-dn" x="456.9" y="658.7"/><use href="#m-dn" x="485.8" y="664.6"/><use href="#m-dn" x="517.7" y="672.8"/><use href="#m-dn" x="548.9" y="682.0"/><use href="#m-dn" x="580.7" y="693.2"/><use href="#m-dn" x="609.6" y="703.5"/><use href="#m-dn" x="640.8" y="713.3"/><use href="#m-dn" x="672.7" y="725.2"/><use href="#m-dn" x="702.2" y="735.4"/><use href="#m-dn" x="733.4" y="748.0"/><use href="#m-dn" x="765.0" y="756.2"/><use href="#m-dn" x="794.2" y="767.7"/><use href="#m-dn" x="825.8" y="779.2"/><use href="#m-dn" x="857.5" y="788.0"/><use href="#m-dn" x="888.7" y="799.5"/><use href="#m-dn" x="918.2" y="807.7"/><use href="#m-dn" x="949.4" y="817.0"/><use href="#m-dn" x="981.3" y="828.4"/><use href="#m-dn" x="1010.2" y="836.6"/><use href="#m-dn" x="1042.0" y="845.5"/><use href="#m-dn" x="1073.6" y="854.0"/><use href="#m-dn" x="1105.4" y="863.0"/><use href="#m-dn" x="1134.0" y="874.4"/><use href="#m-dn" x="1165.5" y="883.6"/><use href="#m-dn" x="1197.4" y="894.8"/><use href="#m-dn" x="1226.5" y="903.5"/><use href="#m-dn" x="1257.8" y="912.1"/><use href="#m-dn" x="1289.3" y="920.7"/><use href="#m-dn" x="1318.1" y="929.3"/><use href="#m-dn" x="1350.0" y="938.0"/><use href="#m-dn" x="1381.4" y="943.2"/><use href="#m-dn" x="1413.2" y="952.3"/><use href="#m-dn" x="1442.0" y="958.0"/><use href="#m-dn" x="1474.0" y="963.8"/><use href="#m-dn" x="1505.5" y="969.7"/><use href="#m-dn" x="1534.0" y="976.0"/><use href="#m-dn" x="1566.0" y="984.2"/><use href="#m-dn" x="1597.4" y="990.0"/><use href="#m-dn" x="1629.3" y="1001.6"/><use href="#m-dn" x="1657.9" y="1013.7"/><use href="#m-dn" x="1690.0" y="1024.6"/><use href="#m-dn" x="1721.2" y="1042.0"/><use href="#m-dn" x="1750.2" y="1059.0"/><use href="#m-dn" x="1782.0" y="1078.8"/></g>
<g><use href="#m-dp" x="270.0" y="690.7"/><use href="#m-dp" x="280.2" y="690.8"/><use href="#m-dp" x="290.3" y="690.9"/><use href="#m-dp" x="300.5" y="691.5"/><use href="#m-dp" x="310.6" y="694.1"/><use href="#m-dp" x="320.8" y="696.8"/><use href="#m-dp" x="330.9" y="697.8"/><use href="#m-dp" x="341.1" y="697.5"/><use href="#m-dp" x="351.2" y="700.2"/><use href="#m-dp" x="361.4" y="703.7"/><use href="#m-dp" x="371.5" y="707.6"/><use href="#m-dp" x="381.7" y="712.5"/><use href="#m-dp" x="391.9" y="718.4"/><use href="#m-dp" x="402.0" y="709.5"/><use href="#m-dp" x="412.2" y="718.2"/><use href="#m-dp" x="422.3" y="714.7"/><use href="#m-dp" x="432.5" y="717.1"/><use href="#m-dp" x="442.6" y="722.4"/><use href="#m-dp" x="452.8" y="726.1"/><use href="#m-dp" x="462.9" y="729.6"/><use href="#m-dp" x="473.1" y="731.7"/><use href="#m-dp" x="483.2" y="733.1"/><use href="#m-dp" x="493.4" y="735.9"/><use href="#m-dp" x="503.6" y="738.5"/><use href="#m-dp" x="513.7" y="743.1"/><use href="#m-dp" x="523.9" y="744.8"/><use href="#m-dp" x="534.0" y="746.9"/><use href="#m-dp" x="544.2" y="750.5"/><use href="#m-dp" x="554.3" y="753.0"/><use href="#m-dp" x="564.5" y="756.5"/><use href="#m-dp" x="574.6" y="761.2"/><use href="#m-dp" x="584.8" y="765.1"/><use href="#m-dp" x="594.9" y="768.7"/><use href="#m-dp" x="605.1" y="774.0"/><use href="#m-dp" x="615.2" y="777.8"/><use href="#m-dp" x="625.4" y="782.3"/><use href="#m-dp" x="635.6" y="786.0"/><use href="#m-dp" x="645.7" y="791.3"/><use href="#m-dp" x="655.9" y="795.1"/><use href="#m-dp" x="666.0" y="799.6"/><use href="#m-dp" x="676.2" y="803.6"/><use href="#m-dp" x="686.3" y="806.8"/><use href="#m-dp" x="696.5" y="810.8"/><use href="#m-dp" x="706.6" y="814.5"/><use href="#m-dp" x="716.8" y="818.7"/><use href="#m-dp" x="726.9" y="823.0"/><use href="#m-dp" x="737.1" y="827.7"/><use href="#m-dp" x="747.3" y="831.8"/><use href="#m-dp" x="757.4" y="834.0"/><use href="#m-dp" x="767.6" y="838.0"/><use href="#m-dp" x="777.7" y="840.7"/><use href="#m-dp" x="787.9" y="844.4"/><use href="#m-dp" x="798.0" y="848.9"/><use href="#m-dp" x="808.2" y="852.2"/><use href="#m-dp" x="818.3" y="855.4"/><use href="#m-dp" x="828.5" y="858.9"/><use href="#m-dp" x="838.6" y="862.6"/><use href="#m-dp" x="848.8" y="865.0"/><use href="#m-dp" x="859.0" y="869.5"/><use href="#m-dp" x="869.1" y="871.4"/><use href="#m-dp" x="879.3" y="875.7"/><use href="#m-dp" x="889.4" y="879.1"/><use href="#m-dp" x="899.6" y="881.2"/><use href="#m-dp" x="909.7" y="885.5"/><use href="#m-dp" x="919.9" y="888.1"/><use href="#m-dp" x="930.0" y="891.7"/><use href="#m-dp" x="940.2" y="894.1"/><use href="#m-dp" x="950.3" y="897.4"/><use href="#m-dp" x="960.5" y="900.9"/><use href="#m-dp" x="970.7" y="905.3"/><use href="#m-dp" x="980.8" y="907.7"/><use href="#m-dp" x="991.0" y="911.9"/><use href="#m-dp" x="1001.1" y="915.5"/><use href="#m-dp" x="1011.3" y="919.0"/><use href="#m-dp" x="1021.4" y="921.5"/><use href="#m-dp" x="1031.6" y="925.0"/><use href="#m-dp" x="1041.7" y="928.7"/><use href="#m-dp" x="1051.9" y="932.9"/><use href="#m-dp" x="1062.0" y="935.9"/><use href="#m-dp" x="1072.2" y="940.7"/><use href="#m-dp" x="1082.3" y="944.7"/><use href="#m-dp" x="1092.5" y="948.4"/><use href="#m-dp" x="1102.7" y="950.9"/><use href="#m-dp" x="1112.8" y="955.9"/><use href="#m-dp" x="1123.0" y="958.3"/><use href="#m-dp" x="1133.1" y="962.3"/><use href="#m-dp" x="1143.3" y="966.4"/><use href="#m-dp" x="1153.4" y="970.5"/><use href="#m-dp" x="1163.6" y="973.3"/><use href="#m-dp" x="1173.7" y="977.8"/><use href="#m-dp" x="1183.9" y="981.2"/><use href="#m-dp" x="1194.0" y="984.9"/><use href="#m-dp" x="1204.2" y="988.8"/><use href="#m-dp" x="1214.4" y="992.5"/><use href="#m-dp" x="1224.5" y="995.7"/><use href="#m-dp" x="1234.7" y="999.1"/><use href="#m-dp" x="1244.8" y="1003.1"/><use href="#m-dp" x="1255.0" y="1006.8"/><use href="#m-dp" x="1265.1" y="1008.5"/><use href="#m-dp" x="1275.3" y="1011.0"/><use href="#m-dp" x="1285.4" y="1014.9"/><use href="#m-dp" x="1295.6" y="1017.0"/><use href="#m-dp" x="1305.7" y="1019.5"/><use href="#m-dp" x="1315.9" y="1022.2"/><use href="#m-dp" x="1326.1" y="1025.7"/><use href="#m-dp" x="1336.2" y="1029.0"/><use href="#m-dp" x="1346.4" y="1031.4"/><use href="#m-dp" x="1356.5" y="1033.9"/><use href="#m-dp" x="1366.7" y="1035.8"/><use href="#m-dp" x="1376.8" y="1039.5"/><use href="#m-dp" x="1387.0" y="1040.7"/><use href="#m-dp" x="1397.1" y="1043.4"/><use href="#m-dp" x="1407.3" y="1045.6"/><use href="#m-dp" x="1417.4" y="1046.3"/><use href="#m-dp" x="1427.6" y="1048.8"/><use href="#m-dp" x="1437.8" y="1051.3"/><use href="#m-dp" x="1447.9" y="1053.7"/><use href="#m-dp" x="1458.1" y="1056.6"/><use href="#m-dp" x="1468.2" y="1057.3"/><use href="#m-dp" x="1478.4" y="1059.3"/><use href="#m-dp" x="1488.5" y="1060.6"/><use href="#m-dp" x="1498.7" y="1063.2"/><use href="#m-dp" x="1508.8" y="1064.0"/><use href="#m-dp" x="1519.0" y="1065.9"/><use href="#m-dp" x="1529.1" y="1069.4"/><use href="#m-dp" x="1539.3" y="1072.7"/><use href="#m-dp" x="1549.4" y="1076.3"/><use href="#m-dp" x="1559.6" y="1078.4"/><use href="#m-dp" x="1569.8" y="1080.6"/><use href="#m-dp" x="1579.9" y="1083.1"/><use href="#m-dp" x="1590.1" y="1084.8"/><use href="#m-dp" x="1600.2" y="1086.4"/><use href="#m-dp" x="1610.4" y="1088.5"/><use href="#m-dp" x="1620.5" y="1090.0"/><use href="#m-dp" x="1630.7" y="1092.2"/><use href="#m-dp" x="1640.8" y="1094.9"/><use href="#m-dp" x="1651.0" y="1096.7"/><use href="#m-dp" x="1661.1" y="1098.3"/><use href="#m-dp" x="1671.3" y="1100.3"/><use href="#m-dp" x="1681.5" y="1102.3"/><use href="#m-dp" x="1691.6" y="1104.1"/><use href="#m-dp" x="1701.8" y="1106.5"/><use href="#m-dp" x="1711.9" y="1109.4"/><use href="#m-dp" x="1722.1" y="1112.2"/><use href="#m-dp" x="1732.2" y="1115.6"/><use href="#m-dp" x="1742.4" y="1120.3"/><use href="#m-dp" x="1752.5" y="1124.4"/><use href="#m-dp" x="1762.7" y="1127.6"/><use href="#m-dp" x="1772.8" y="1130.9"/><use href="#m-dp" x="1783.0" y="1134.4"/></g>
<g><use href="#m-do" x="270.0" y="726.3"/><use href="#m-do" x="280.2" y="725.5"/><use href="#m-do" x="290.3" y="726.5"/><use href="#m-do" x="300.5" y="725.0"/><use href="#m-do" x="310.6" y="727.0"/><use href="#m-do" x="320.8" y="726.0"/><use href="#m-do" x="330.9" y="724.6"/><use href="#m-do" x="341.1" y="744.3"/><use href="#m-do" x="351.2" y="746.0"/><use href="#m-do" x="361.4" y="751.0"/><use href="#m-do" x="371.5" y="734.5"/><use href="#m-do" x="381.7" y="742.7"/><use href="#m-do" x="391.9" y="751.0"/><use href="#m-do" x="402.0" y="754.2"/><use href="#m-do" x="412.2" y="754.2"/><use href="#m-do" x="422.3" y="753.0"/><use href="#m-do" x="432.5" y="749.3"/><use href="#m-do" x="442.6" y="759.0"/><use href="#m-do" x="452.8" y="767.3"/><use href="#m-do" x="462.9" y="747.6"/><use href="#m-do" x="473.1" y="764.0"/><use href="#m-do" x="483.2" y="760.8"/><use href="#m-do" x="493.4" y="760.0"/><use href="#m-do" x="503.6" y="759.0"/><use href="#m-do" x="513.7" y="755.8"/><use href="#m-do" x="523.9" y="762.4"/><use href="#m-do" x="534.0" y="763.0"/><use href="#m-do" x="544.2" y="764.0"/><use href="#m-do" x="554.3" y="770.0"/><use href="#m-do" x="564.5" y="775.5"/><use href="#m-do" x="574.6" y="770.6"/><use href="#m-do" x="584.8" y="776.0"/><use href="#m-do" x="594.9" y="778.5"/><use href="#m-do" x="605.1" y="781.6"/><use href="#m-do" x="615.2" y="784.2"/><use href="#m-do" x="625.4" y="787.5"/><use href="#m-do" x="635.6" y="789.6"/><use href="#m-do" x="645.7" y="793.2"/><use href="#m-do" x="655.9" y="795.9"/><use href="#m-do" x="666.0" y="798.0"/><use href="#m-do" x="676.2" y="801.0"/><use href="#m-do" x="686.3" y="804.4"/><use href="#m-do" x="696.5" y="807.8"/><use href="#m-do" x="706.6" y="811.4"/><use href="#m-do" x="716.8" y="813.7"/><use href="#m-do" x="726.9" y="818.3"/><use href="#m-do" x="737.1" y="822.8"/><use href="#m-do" x="747.3" y="825.9"/><use href="#m-do" x="757.4" y="829.4"/><use href="#m-do" x="767.6" y="831.6"/><use href="#m-do" x="777.7" y="836.0"/><use href="#m-do" x="787.9" y="839.2"/><use href="#m-do" x="798.0" y="842.4"/><use href="#m-do" x="808.2" y="847.0"/><use href="#m-do" x="818.3" y="849.8"/><use href="#m-do" x="828.5" y="853.0"/><use href="#m-do" x="838.6" y="856.8"/><use href="#m-do" x="848.8" y="859.5"/><use href="#m-do" x="859.0" y="862.9"/><use href="#m-do" x="869.1" y="867.2"/><use href="#m-do" x="879.3" y="870.2"/><use href="#m-do" x="889.4" y="872.3"/><use href="#m-do" x="899.6" y="876.8"/><use href="#m-do" x="909.7" y="878.8"/><use href="#m-do" x="919.9" y="882.6"/><use href="#m-do" x="930.0" y="886.7"/><use href="#m-do" x="940.2" y="889.5"/><use href="#m-do" x="950.3" y="892.3"/><use href="#m-do" x="960.5" y="895.6"/><use href="#m-do" x="970.7" y="899.0"/><use href="#m-do" x="980.8" y="901.9"/><use href="#m-do" x="991.0" y="906.6"/><use href="#m-do" x="1001.1" y="908.5"/><use href="#m-do" x="1011.3" y="912.4"/><use href="#m-do" x="1021.4" y="916.3"/><use href="#m-do" x="1031.6" y="919.1"/><use href="#m-do" x="1041.7" y="923.4"/><use href="#m-do" x="1051.9" y="925.9"/><use href="#m-do" x="1062.0" y="930.7"/><use href="#m-do" x="1072.2" y="934.2"/><use href="#m-do" x="1082.3" y="937.5"/><use href="#m-do" x="1092.5" y="941.5"/><use href="#m-do" x="1102.7" y="944.5"/><use href="#m-do" x="1112.8" y="948.7"/><use href="#m-do" x="1123.0" y="952.3"/><use href="#m-do" x="1133.1" y="955.5"/><use href="#m-do" x="1143.3" y="959.1"/><use href="#m-do" x="1153.4" y="963.1"/><use href="#m-do" x="1163.6" y="966.3"/><use href="#m-do" x="1173.7" y="969.4"/><use href="#m-do" x="1183.9" y="974.4"/><use href="#m-do" x="1194.0" y="977.6"/><use href="#m-do" x="1204.2" y="981.8"/><use href="#m-do" x="1214.4" y="986.2"/><use href="#m-do" x="1224.5" y="988.6"/><use href="#m-do" x="1234.7" y="991.6"/><use href="#m-do" x="1244.8" y="995.0"/><use href="#m-do" x="1255.0" y="999.0"/><use href="#m-do" x="1265.1" y="1001.5"/><use href="#m-do" x="1275.3" y="1003.9"/><use href="#m-do" x="1285.4" y="1006.9"/><use href="#m-do" x="1295.6" y="1010.2"/><use href="#m-do" x="1305.7" y="1011.9"/><use href="#m-do" x="1315.9" y="1015.1"/><use href="#m-do" x="1326.1" y="1018.8"/><use href="#m-do" x="1336.2" y="1021.3"/><use href="#m-do" x="1346.4" y="1023.7"/><use href="#m-do" x="1356.5" y="1026.5"/><use href="#m-do" x="1366.7" y="1028.9"/><use href="#m-do" x="1376.8" y="1030.9"/><use href="#m-do" x="1387.0" y="1033.7"/><use href="#m-do" x="1397.1" y="1035.5"/><use href="#m-do" x="1407.3" y="1037.9"/><use href="#m-do" x="1417.4" y="1038.7"/><use href="#m-do" x="1427.6" y="1040.8"/><use href="#m-do" x="1437.8" y="1043.4"/><use href="#m-do" x="1447.9" y="1046.2"/><use href="#m-do" x="1458.1" y="1048.0"/><use href="#m-do" x="1468.2" y="1049.7"/><use href="#m-do" x="1478.4" y="1050.7"/><use href="#m-do" x="1488.5" y="1052.2"/><use href="#m-do" x="1498.7" y="1053.7"/><use href="#m-do" x="1508.8" y="1055.6"/><use href="#m-do" x="1519.0" y="1057.2"/><use href="#m-do" x="1529.1" y="1058.9"/><use href="#m-do" x="1539.3" y="1061.9"/><use href="#m-do" x="1549.4" y="1066.0"/><use href="#m-do" x="1559.6" y="1068.3"/><use href="#m-do" x="1569.8" y="1070.4"/><use href="#m-do" x="1579.9" y="1073.7"/><use href="#m-do" x="1590.1" y="1074.7"/><use href="#m-do" x="1600.2" y="1077.5"/><use href="#m-do" x="1610.4" y="1078.7"/><use href="#m-do" x="1620.5" y="1081.4"/><use href="#m-do" x="1630.7" y="1083.1"/><use href="#m-do" x="1640.8" y="1083.6"/><use href="#m-do" x="1651.0" y="1085.6"/><use href="#m-do" x="1661.1" y="1088.7"/><use href="#m-do" x="1671.3" y="1090.2"/><use href="#m-do" x="1681.5" y="1092.0"/><use href="#m-do" x="1691.6" y="1094.6"/><use href="#m-do" x="1701.8" y="1096.6"/><use href="#m-do" x="1711.9" y="1098.2"/><use href="#m-do" x="1722.1" y="1100.7"/><use href="#m-do" x="1732.2" y="1104.2"/><use href="#m-do" x="1742.4" y="1108.7"/><use href="#m-do" x="1752.5" y="1112.4"/><use href="#m-do" x="1762.7" y="1117.0"/><use href="#m-do" x="1772.8" y="1120.8"/><use href="#m-do" x="1783.0" y="1123.8"/></g>
<use href="#m-star" x="1647.0" y="134.4"/><use href="#m-sq" x="1647.0" y="203.5"/><use href="#m-ci" x="1647.0" y="269.9"/><use href="#m-up" x="1647.0" y="336.5"/><use href="#m-dn" x="1647.0" y="410.3"/><use href="#m-dp" x="1647.0" y="477.2"/><use href="#m-do" x="1647.0" y="546.4"/>
<path d="M269.9 69.7V1160.1H1783.0" stroke="#000" stroke-width="3.0" fill="none" stroke-linejoin="miter" stroke-linecap="butt"/>
<path d="M268.4 1160.1H269.9" stroke="#000" stroke-width="3.0" fill="none"/>
<text x="215.7" y="1184.4" text-anchor="end" font-size="62.1">10</text><text x="215.6" y="1161.3" font-size="49.8">3</text>
<text x="215.7" y="1028.8" text-anchor="end" font-size="62.1">10</text><text x="215.6" y="1005.7" font-size="49.8">4</text>
<text x="215.7" y="873.3" text-anchor="end" font-size="62.1">10</text><text x="215.6" y="850.2" font-size="49.8">5</text>
<text x="215.7" y="717.7" text-anchor="end" font-size="62.1">10</text><text x="215.6" y="694.6" font-size="49.8">6</text>
<text x="215.7" y="562.2" text-anchor="end" font-size="62.1">10</text><text x="215.6" y="539.1" font-size="49.8">7</text>
<text x="215.7" y="406.6" text-anchor="end" font-size="62.1">10</text><text x="215.6" y="383.5" font-size="49.8">8</text>
<text x="215.7" y="251.1" text-anchor="end" font-size="62.1">10</text><text x="215.6" y="228.0" font-size="49.8">9</text>
<text x="128.4" y="95.5" font-size="62.1" letter-spacing="2">10</text><text x="189.6" y="72.4" font-size="49.8" letter-spacing="2.3">10</text>
<text x="335.2" y="1253.7" text-anchor="middle" font-size="62.1">0.1</text>
<text x="551.4" y="1253.7" text-anchor="middle" font-size="62.1">1</text>
<text x="767.5" y="1253.7" text-anchor="middle" font-size="62.1">10</text>
<text x="983.6" y="1253.7" text-anchor="middle" font-size="62.1">100</text>
<text x="1199.8" y="1253.7" text-anchor="middle" font-size="62.1">1000</text>
<text x="1416.0" y="1253.7" text-anchor="middle" font-size="62.1">10,000</text>
<text x="1632.1" y="1253.7" text-anchor="middle" font-size="62.1">100,000</text>
<text x="1540.2" y="155.5" text-anchor="end" font-size="62.1">2 hours</text>
<text x="1540.2" y="224.7" text-anchor="end" font-size="62.1">5 days</text>
<text x="1540.2" y="293.9" text-anchor="end" font-size="62.1">14 days</text>
<text x="1540.2" y="363.1" text-anchor="end" font-size="62.1">18 days</text>
<text x="1540.2" y="432.3" text-anchor="end" font-size="62.1">24 days</text>
<text x="1540.2" y="501.5" text-anchor="end" font-size="62.1">28 days</text>
<text x="1540.2" y="570.7" text-anchor="end" font-size="62.1">30 days</text>
<text x="1026.3" y="1357.5" text-anchor="middle" font-size="62.1">Frequency, Hz</text>
<text transform="translate(111.8 615.8) rotate(-90)" text-anchor="middle" font-size="61.5">Impedance modulus, Ohm/cm<tspan font-size="49.8" dy="-21.5">2</tspan></text>
</svg></body></html>
